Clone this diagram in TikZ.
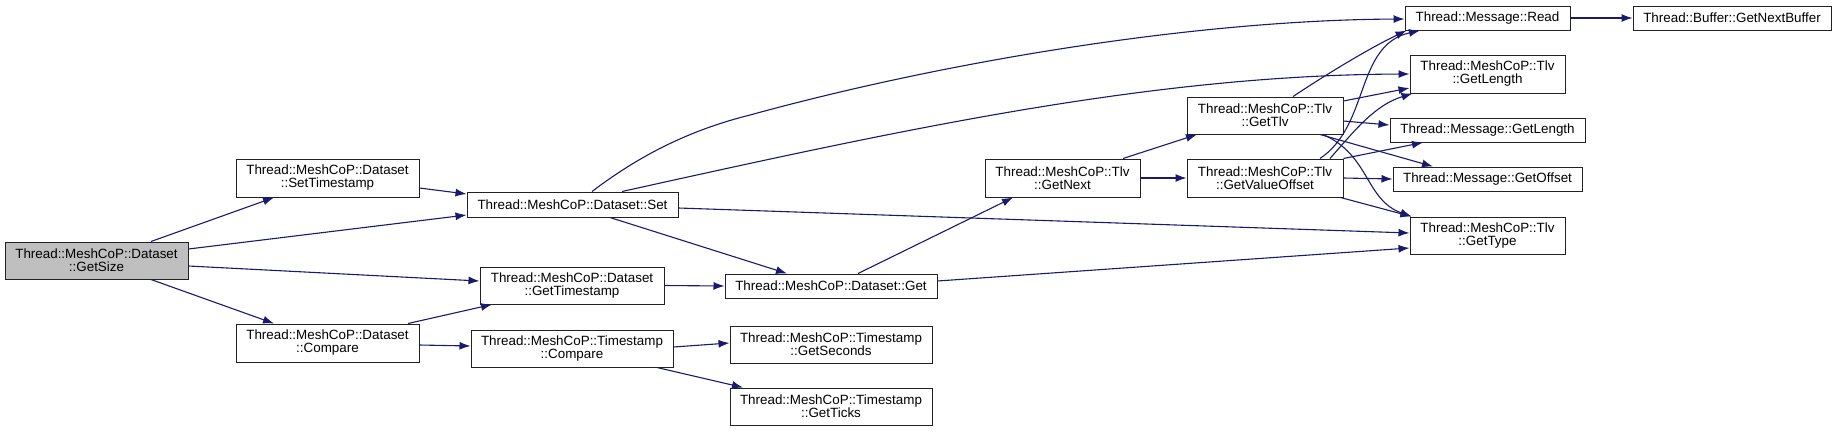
\documentclass[tikz,border=0pt]{standalone}
\usepackage{fontspec}
\setmainfont{Liberation Sans}
\usetikzlibrary{arrows.meta}
\definecolor{edgec}{HTML}{191970}
\definecolor{rootfill}{HTML}{BFBFBF}
\definecolor{borderc}{HTML}{222222}
\begin{document}
\begin{tikzpicture}[x=1pt,y=-1pt,
  fn/.style={draw=borderc, line width=1pt, fill=white, inner sep=0pt, align=center,
             font=\fontsize{13.4}{13}\selectfont},
  sz/.style 2 args={minimum width=#1pt, minimum height=#2pt},
  root/.style={fill=rootfill},
  e/.style={draw=edgec, line width=1.1pt, -{Latex[length=11pt,width=8pt]}}]
\useasboundingbox (0,0) rectangle (1837,432);
% nodes
\node[fn,root,sz={183}{37}] (getsize) at (96.5,260.5) {Thread::MeshCoP::Dataset\\::GetSize};
\node[fn,sz={183}{38}] (setts) at (327.5,178) {Thread::MeshCoP::Dataset\\::SetTimestamp};
\node[fn,sz={183}{38}] (dcompare) at (327.5,343) {Thread::MeshCoP::Dataset\\::Compare};
\node[fn,sz={211}{25}] (set) at (572.5,204.5) {Thread::MeshCoP::Dataset::Set};
\node[fn,sz={184}{37}] (getts) at (572,285.5) {Thread::MeshCoP::Dataset\\::GetTimestamp};
\node[fn,sz={202}{37}] (tcompare) at (572,348.5) {Thread::MeshCoP::Timestamp\\::Compare};
\node[fn,sz={212}{24}] (dget) at (831,286) {Thread::MeshCoP::Dataset::Get};
\node[fn,sz={202}{37}] (getsec) at (831,344.5) {Thread::MeshCoP::Timestamp\\::GetSeconds};
\node[fn,sz={202}{37}] (getticks) at (831,406.5) {Thread::MeshCoP::Timestamp\\::GetTicks};
\node[fn,sz={155}{38}] (getnext) at (1062.5,178) {Thread::MeshCoP::Tlv\\::GetNext};
\node[fn,sz={156}{37}] (gettlv) at (1265,115.5) {Thread::MeshCoP::Tlv\\::GetTlv};
\node[fn,sz={156}{38}] (getvo) at (1265,178) {Thread::MeshCoP::Tlv\\::GetValueOffset};
\node[fn,sz={165}{24}] (read) at (1487.5,18) {Thread::Message::Read};
\node[fn,sz={198}{24}] (nextbuf) at (1732,18) {Thread::Buffer::GetNextBuffer};
\node[fn,sz={155}{38}] (tlvlen) at (1487.5,74) {Thread::MeshCoP::Tlv\\::GetLength};
\node[fn,sz={195}{24}] (msglen) at (1487.5,130) {Thread::Message::GetLength};
\node[fn,sz={189}{24}] (msgoff) at (1487.5,179) {Thread::Message::GetOffset};
\node[fn,sz={155}{37}] (gettype) at (1487.5,235.5) {Thread::MeshCoP::Tlv\\::GetType};
% edges
\draw[e] ([xshift=54.5pt]getsize.north) -- ([xshift=-53.5pt]setts.south);
\draw[e] ([yshift=11.5pt]getsize.east) -- ([yshift=-10.5pt]set.west);
\draw[e] ([yshift=-5.5pt]getsize.east) -- ([yshift=4.5pt]getts.west);
\draw[e] ([xshift=54.5pt]getsize.south) -- ([xshift=-53.5pt]dcompare.north);
\draw[e] ([yshift=-10pt]setts.east) -- ([yshift=10.5pt]set.west);
\draw[e] ([xshift=80.5pt]dcompare.north) -- ([xshift=-80pt]getts.south);
\draw[e] ([yshift=-2pt]dcompare.east) -- ([yshift=2.5pt]tcompare.west);
\draw[e] ([xshift=19.5pt]set.north) .. controls (640,155) and (690,130) .. (750,115)
   .. controls (950,60) and (1200,20) .. ([yshift=-1pt]read.west);
\draw[e] ([xshift=49.5pt]set.north) .. controls (900,130) and (1150,75) .. (tlvlen.west);
\draw[e] ([yshift=-3.5pt]set.east) -- ([yshift=2.5pt]gettype.west);
\draw[e] ([xshift=37.5pt]set.south) -- ([xshift=-44pt]dget.north);
\draw[e] (getts.east) -- (dget.west);
\draw[e] ([xshift=27pt]dget.north) -- ([xshift=-49.5pt]getnext.south);
\draw[e] ([yshift=5pt]dget.east) -- ([yshift=-12.5pt]gettype.west);
\draw[e] ([yshift=1.5pt]tcompare.east) -- ([yshift=1.5pt]getsec.west);
\draw[e] ([xshift=85pt]tcompare.south) -- ([xshift=-88pt]getticks.north);
\draw[e] ([xshift=60.5pt]getnext.north) -- ([xshift=-68pt]gettlv.south);
\draw[e] (getnext.east) -- (getvo.west);
\draw[e] ([xshift=28pt]gettlv.north) .. controls (1330,72) and (1370,48) .. ([xshift=2pt]read.south west);
\draw[e] ([xshift=55pt]getvo.north) .. controls (1370,125) and (1355,45) .. ([xshift=-67.5pt]read.south);
\draw[e] ([yshift=14.5pt]gettlv.east) -- ([yshift=-14pt]tlvlen.west);
\draw[e] ([yshift=-5.5pt]gettlv.east) -- ([yshift=5pt]msglen.west);
\draw[e] ([xshift=55pt]gettlv.south) -- ([xshift=-54.5pt]msgoff.north);
\draw[e] ([xshift=58pt]gettlv.south) .. controls (1370,155) and (1365,200) .. ([xshift=2pt]gettype.north west);
\draw[e] ([xshift=65pt]getvo.north) .. controls (1355,130) and (1375,105) .. ([xshift=3pt]tlvlen.south west);
\draw[e] (getvo.north east) -- ([xshift=-64.5pt]msglen.south);
\draw[e] (getvo.east) -- (msgoff.west);
\draw[e] ([xshift=-3pt]getvo.south east) -- ([xshift=2pt]gettype.north west);
\draw[e] (read.east) -- (nextbuf.west);
\end{tikzpicture}
\end{document}
